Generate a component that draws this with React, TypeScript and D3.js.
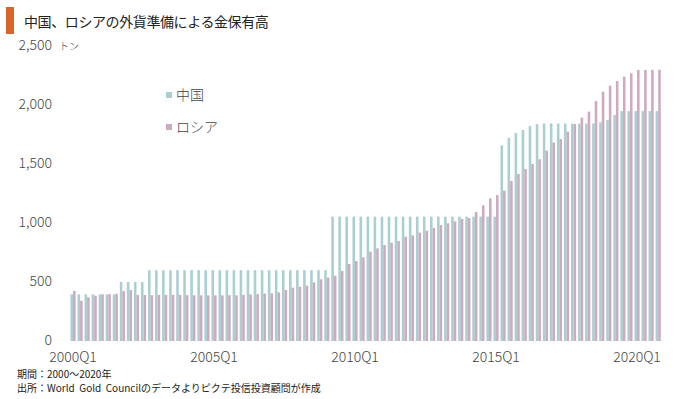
import * as d3 from "d3";

const years = d3.range(2000, 2021);
const quarters = years.flatMap((y) => [1, 2, 3, 4].map((q) => `${y}Q${q}`));

// 中国 (tonnes), 2000Q1 - 2020Q4
const china = [
  395, 395, 395, 395, 395, 395, 395, 500, 500, 500, 500, 600,
  600, 600, 600, 600, 600, 600, 600, 600, 600, 600, 600, 600,
  600, 600, 600, 600, 600, 600, 600, 600, 600, 600, 600, 600,
  600, 1054, 1054, 1054, 1054, 1054, 1054, 1054, 1054, 1054, 1054, 1054,
  1054, 1054, 1054, 1054, 1054, 1054, 1054, 1054, 1054, 1054, 1054, 1054,
  1054, 1658, 1722, 1762, 1788, 1823, 1838, 1843, 1843, 1843, 1843, 1843,
  1843, 1843, 1843, 1853, 1874, 1916, 1948, 1948, 1948, 1948, 1948, 1948,
];

// ロシア (tonnes), 2000Q1 - 2020Q4
const russia = [
  424, 342, 370, 384, 396, 396, 401, 423, 432, 390, 390, 388,
  390, 390, 390, 390, 388, 387, 387, 387, 387, 387, 388, 387,
  390, 395, 397, 402, 404, 412, 432, 452, 460, 469, 497, 523,
  537, 552, 593, 653, 678, 709, 757, 785, 813, 833, 847, 884,
  895, 918, 935, 958, 983, 997, 1014, 1034, 1042, 1094, 1150, 1209,
  1237, 1274, 1356, 1415, 1458, 1500, 1540, 1613, 1681, 1712, 1774, 1839,
  1893, 1944, 2034, 2113, 2164, 2203, 2240, 2268, 2297, 2297, 2298, 2299,
];

const yTicks = [0, 500, 1000, 1500, 2000, 2500];
const xTickLabels = ["2000Q1", "2005Q1", "2010Q1", "2015Q1", "2020Q1"];

const series = [
  { key: "中国", values: china, color: "#a9cfd2" },
  { key: "ロシア", values: russia, color: "#cdaabf" },
];

const font = "'Noto Sans CJK JP', 'Noto Sans', sans-serif";

export default function App() {
  const width = 680;
  const height = 399;

  const x = d3
    .scaleBand<string>()
    .domain(quarters)
    .range([69.5, 661.7])
    .paddingInner(0.27)
    .paddingOuter(0.135);
  const x1 = d3
    .scaleBand<string>()
    .domain(series.map((s) => s.key))
    .range([0, x.bandwidth()]);
  const y = d3.scaleLinear().domain([0, 2500]).range([341, 46]);
  const fmt = d3.format(",");

  return (
    <svg
      width={width}
      height={height}
      style={{ position: "absolute", left: 0, top: 0, background: "#fff" }}
      fontFamily={font}
    >
      {/* title */}
      <rect x={6} y={7} width={8} height={27} fill="#d9652b" />
      <text x={24} y={27} fontSize={14} fill="#222" letterSpacing={-0.4}>
        中国、ロシアの外貨準備による金保有高
      </text>

      {/* y axis labels */}
      {yTicks.map((t) => (
        <text
          key={t}
          x={52}
          y={y(t) - 1}
          dy="0.36em"
          textAnchor="end"
          fontSize={14}
          fontWeight={300}
          fill="#444"
        >
          {fmt(t)}
        </text>
      ))}
      <text x={59} y={y(2500)} dy="0.4em" fontSize={10} fontWeight={300} fill="#444">
        トン
      </text>

      {/* bars */}
      {series.map((s) => (
        <g key={s.key} fill={s.color}>
          {quarters.map((q, i) => (
            <rect
              key={q}
              x={(x(q) ?? 0) + (x1(s.key) ?? 0)}
              y={y(s.values[i])}
              width={x1.bandwidth()}
              height={y(0) - y(s.values[i])}
            />
          ))}
        </g>
      ))}

      {/* x axis labels */}
      {xTickLabels.map((q) => (
        <text
          key={q}
          x={(x(q) ?? 0) + x.bandwidth() / 2}
          y={362}
          textAnchor="middle"
          fontSize={14}
          fontWeight={300}
          fill="#444"
        >
          {q}
        </text>
      ))}

      {/* legend */}
      {series.map((s, i) => (
        <g key={s.key} transform={`translate(166, ${95 + i * 32})`}>
          <rect x={0} y={-3} width={6} height={6} fill={s.color} />
          <text x={10} y={0} dy="0.36em" fontSize={14} fontWeight={300} fill="#444">
            {s.key}
          </text>
        </g>
      ))}

      {/* footnotes */}
      <text x={17} y={378} fontSize={10} fill="#222">
        期間：2000～2020年
      </text>
      <text x={17} y={392} fontSize={10} fill="#222" style={{ whiteSpace: "pre" }}>
        {"出所：World  Gold  Councilのデータよりピクテ投信投資顧問が作成"}
      </text>
    </svg>
  );
}
